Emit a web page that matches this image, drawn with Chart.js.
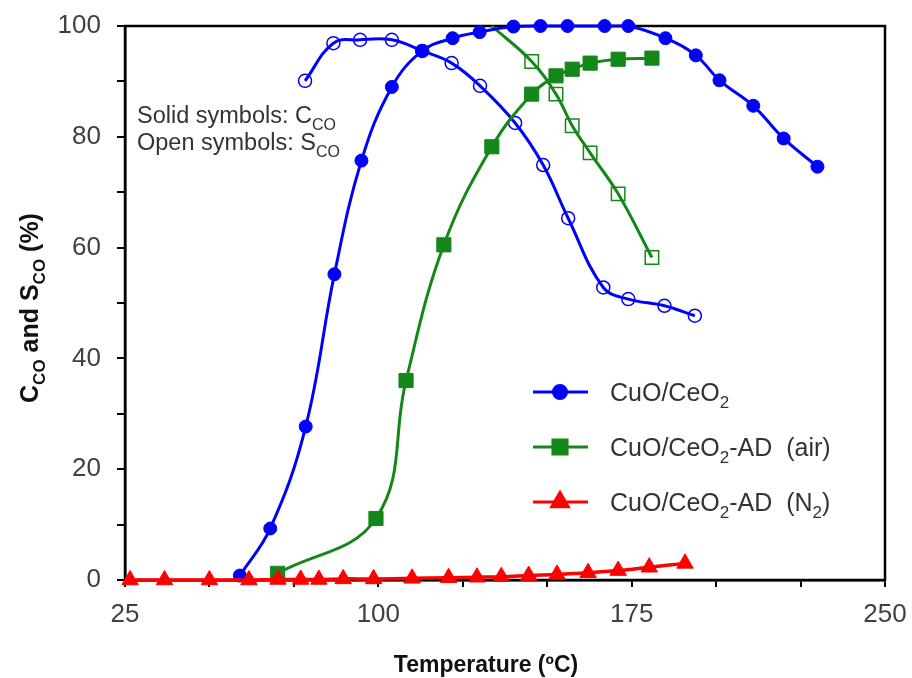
<!DOCTYPE html>
<html>
<head>
<meta charset="utf-8">
<script src="https://cdn.jsdelivr.net/npm/chart.js@4.4.1/dist/chart.umd.min.js"></script>
<style>
  html, body { margin: 0; padding: 0; background: #fff; }
  #wrap { width: 912px; height: 678px; }
</style>
</head>
<body>
<div id="wrap"><canvas id="chart" width="912" height="678"></canvas></div>
<script>
// CuO/CeO2 : conversion (solid) and selectivity (open)
const tempCuO = [59, 68, 78.5, 87, 95, 104, 113, 122, 130, 140, 148, 156, 167, 174, 185, 194, 201, 211, 220, 230];
const convCuO = [0.8, 9.3, 27.7, 55.2, 75.7, 89, 95.5, 97.8, 98.9, 99.9, 100, 100, 100, 100, 97.8, 94.7, 90.2, 85.6, 79.7, 74.6];
const tempCuOSel = [78.3, 86.7, 94.6, 104, 113, 121.7, 130.1, 140.5, 148.8, 156.2, 166.6, 174, 184.7, 193.7];
const selCuO = [90.1, 96.9, 97.5, 97.5, 95.5, 93.3, 89.2, 82.5, 74.9, 65.3, 52.8, 50.7, 49.5, 47.7];

// CuO/CeO2-AD (air)
const tempAir = [70.2, 99.3, 108.2, 119.4, 133.6, 145.4, 152.6, 157.4, 162.7, 171, 181];
const convAir = [1.2, 11.1, 36, 60.5, 78.2, 87.7, 91, 92.2, 93.3, 94, 94.2];
const tempAirSel = [133.6, 145.4, 152.6, 157.4, 162.7, 171, 181];
const selAir = [100, 93.6, 87.7, 82, 77.1, 69.7, 58.2];

// CuO/CeO2-AD (N2)
const tempN2 = [26.5, 36.7, 50, 61.7, 70.3, 77, 82.4, 89.6, 98.6, 110, 120.8, 129.2, 136.4, 144.5, 152.9, 162.1, 171, 180.2, 190.8];
const convN2 = [0, 0, 0, 0, 0.1, 0.1, 0.1, 0.2, 0.2, 0.3, 0.4, 0.5, 0.6, 0.8, 1.0, 1.3, 1.7, 2.3, 3.0];

const xLabels = [25, 100, 175, 250];
const yLabels = [0, 20, 40, 60, 80, 100];

const BLUE = '#0000ff';
const GREEN = '#15871a';
const RED = '#ff0000';
const FONT = "'Liberation Sans', Arial, sans-serif";

function pts(xs, ys) {
    return xs.map((x, i) => ({ x: x, y: ys[i] }));
}

// texte avec indices : [texte, estIndice]
function drawRich(ctx, parts, x, y, size, bold, align) {
    const w = parts.reduce((s, p) => {
        ctx.font = (bold ? 'bold ' : '') + (p[1] ? size * 0.68 : size) + 'px ' + FONT;
        return s + ctx.measureText(p[0]).width;
    }, 0);
    let cx = align === 'center' ? x - w / 2 : x;
    parts.forEach(p => {
        ctx.font = (bold ? 'bold ' : '') + (p[1] ? size * 0.68 : size) + 'px ' + FONT;
        ctx.fillText(p[0], cx, p[1] ? y + size * 0.28 : y);
        cx += ctx.measureText(p[0]).width;
    });
}

const legendItems = [
    { parts: [['CuO/CeO', 0], ['2', 1]], color: BLUE, style: 'circle', r: 6.5 },
    { parts: [['CuO/CeO', 0], ['2', 1], ['-AD  (air)', 0]], color: GREEN, style: 'rect', r: 10 },
    { parts: [['CuO/CeO', 0], ['2', 1], ['-AD  (N', 0], ['2', 1], [')', 0]], color: RED, style: 'triangle', r: 9.5 }
];
const legendRows = [392, 447, 502];

const decorPlugin = {
    id: 'decor',
    beforeDatasetsDraw(chart) {
        const { ctx, chartArea: a } = chart;
        ctx.save();
        ctx.strokeStyle = '#000';
        ctx.lineWidth = 2.5;
        ctx.strokeRect(a.left, a.top, a.right - a.left, a.bottom - a.top);
        ctx.restore();
    },
    afterDraw(chart) {
        const { ctx } = chart;
        ctx.save();
        ctx.fillStyle = '#333';
        ctx.textBaseline = 'alphabetic';
        drawRich(ctx, [['Solid symbols: C', 0], ['CO', 1]], 137, 123, 23.5, false);
        drawRich(ctx, [['Open symbols: S', 0], ['CO', 1]], 137, 150, 23.5, false);

        // légende
        legendItems.forEach((it, i) => {
            const y = legendRows[i];
            ctx.strokeStyle = it.color;
            ctx.lineWidth = 3;
            ctx.beginPath();
            ctx.moveTo(533, y);
            ctx.lineTo(588, y);
            ctx.stroke();
            ctx.fillStyle = it.color;
            Chart.helpers.drawPoint(ctx, { pointStyle: it.style, radius: it.r, borderWidth: 1 }, 560, y);
            ctx.fill();
            ctx.fillStyle = '#333';
            drawRich(ctx, it.parts, 610, y + 9, 25, false);
        });

        // titres des axes
        ctx.fillStyle = '#111';
        drawRich(ctx, [['Temperature (ºC)', 0]], 486, 672, 23, true, 'center');
        ctx.translate(38, 308);
        ctx.rotate(-Math.PI / 2);
        drawRich(ctx, [['C', 0], ['CO', 1], [' and S', 0], ['CO', 1], [' (%)', 0]], 0, 0, 25, true, 'center');
        ctx.restore();
    }
};

function noOverflow(s) {
    s.paddingTop = 0;
    s.paddingBottom = 0;
    s.paddingLeft = 0;
    s.paddingRight = 0;
}

const ctx = document.getElementById('chart').getContext('2d');
new Chart(ctx, {
    type: 'line',
    data: {
        datasets: [
            {
                label: 'CuO/CeO2-AD (N2)', data: pts(tempN2, convN2),
                borderColor: RED, backgroundColor: RED, borderWidth: 3.5,
                pointStyle: 'triangle', pointRadius: 9.5, pointBackgroundColor: RED, pointBorderWidth: 1
            },
            {
                label: 'CuO/CeO2', data: pts(tempCuO, convCuO),
                borderColor: BLUE, backgroundColor: BLUE, borderWidth: 3,
                pointStyle: 'circle', pointRadius: 6.5, pointBackgroundColor: BLUE, pointBorderWidth: 1
            },
            {
                label: 'CuO/CeO2-AD (air)', data: pts(tempAir, convAir),
                borderColor: GREEN, backgroundColor: GREEN, borderWidth: 3,
                pointStyle: 'rect', pointRadius: 10, pointBackgroundColor: GREEN, pointBorderWidth: 1
            },
            {
                label: 'S CuO/CeO2', data: pts(tempCuOSel, selCuO),
                borderColor: BLUE, borderWidth: 3,
                pointStyle: 'circle', pointRadius: 6.5, pointBackgroundColor: 'rgba(0,0,0,0)', pointBorderWidth: 1.5
            },
            {
                label: 'S CuO/CeO2-AD (air)', data: pts(tempAirSel, selAir),
                borderColor: GREEN, borderWidth: 3,
                pointStyle: 'rect', pointRadius: [0, 9.5, 9.5, 9.5, 9.5, 9.5, 9.5],
                pointBackgroundColor: 'rgba(0,0,0,0)', pointBorderWidth: 1.5
            }
        ]
    },
    options: {
        responsive: false,
        animation: false,
        clip: false,
        layout: { padding: { left: 0, right: 27, top: 26, bottom: 0 } },
        plugins: { legend: { display: false }, tooltip: { enabled: false } },
        elements: { line: { tension: 0.4 } },
        scales: {
            x: {
                type: 'linear', min: 25, max: 250,
                afterFit: s => { s.height = 98; noOverflow(s); },
                border: { display: true, color: '#000', width: 2.5 },
                grid: { drawOnChartArea: false, drawTicks: true, tickLength: 7, color: '#000', lineWidth: 2 },
                ticks: {
                    stepSize: 25, padding: 12, color: '#404040', autoSkip: false, maxRotation: 0,
                    font: { family: FONT, size: 26 },
                    callback: v => xLabels.includes(v) ? String(v) : ''
                }
            },
            y: {
                type: 'linear', min: 0, max: 100,
                afterFit: s => { s.width = 125; noOverflow(s); },
                border: { display: true, color: '#000', width: 2.5 },
                grid: { drawOnChartArea: false, drawTicks: true, tickLength: 8, color: '#000', lineWidth: 2 },
                ticks: {
                    stepSize: 10, padding: 16, color: '#404040', autoSkip: false,
                    font: { family: FONT, size: 26 },
                    callback: v => yLabels.includes(v) ? String(v) : ''
                }
            }
        }
    },
    plugins: [decorPlugin]
});
</script>
</body>
</html>
